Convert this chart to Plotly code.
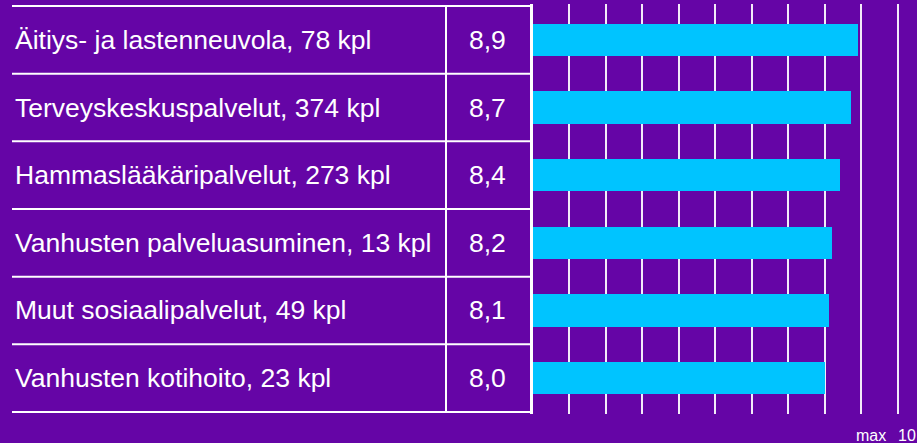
import plotly.graph_objects as go

# Data
categories = [
    "Äitiys- ja lastenneuvola, 78 kpl",
    "Terveyskeskuspalvelut, 374 kpl",
    "Hammaslääkäripalvelut, 273 kpl",
    "Vanhusten palveluasuminen, 13 kpl",
    "Muut sosiaalipalvelut, 49 kpl",
    "Vanhusten kotihoito, 23 kpl",
]
scores = [8.9, 8.7, 8.4, 8.2, 8.1, 8.0]
score_labels = ["8,9", "8,7", "8,4", "8,2", "8,1", "8,0"]
axis_max = 10
max_label = "max"

W, H = 917, 443
BG = "#6505A6"
BAR = "#00C4FF"
FONT = "Liberation Sans, Arial, sans-serif"

x_axis_px = 532.5
unit_px = 36.52
range_end = 10.3
x_end_px = x_axis_px + unit_px * range_end
table_left_px = 12
divider_px = 446

n = len(categories)
ypos = list(range(n))

fig = go.Figure()
fig.add_trace(go.Bar(
    x=scores, y=ypos, orientation="h",
    marker=dict(color=BAR, line=dict(width=0)),
    width=0.48, hoverinfo="skip",
))

shapes = []
for i in range(n + 1):
    yy = i - 0.5
    shapes.append(dict(type="line", xref="paper", yref="y",
                       x0=table_left_px / W, x1=x_axis_px / W, y0=yy, y1=yy,
                       line=dict(color="white", width=2)))
shapes.append(dict(type="line", xref="paper", yref="y",
                   x0=divider_px / W, x1=divider_px / W, y0=-0.5, y1=n - 0.5,
                   line=dict(color="white", width=2)))

annotations = []
for i, (c, s) in enumerate(zip(categories, score_labels)):
    annotations.append(dict(text=c, xref="paper", yref="y", x=12.5 / W, y=i,
                            xanchor="left", yanchor="middle", showarrow=False,
                            font=dict(family=FONT, size=26.5, color="white")))
    annotations.append(dict(text=s, xref="paper", yref="y", x=487 / W, y=i,
                            xanchor="center", yanchor="middle", showarrow=False,
                            font=dict(family=FONT, size=26.5, color="white")))
annotations.append(dict(text=max_label, xref="paper", yref="paper", x=888 / W, y=(H - 435.5) / H,
                        xanchor="right", yanchor="middle", showarrow=False,
                        font=dict(family=FONT, size=16, color="white")))
annotations.append(dict(text=str(axis_max), xref="x", yref="paper", x=axis_max, y=(H - 435.5) / H,
                        xanchor="left", yanchor="middle", showarrow=False, xshift=-2,
                        font=dict(family=FONT, size=16, color="white")))

fig.update_layout(
    width=W, height=H,
    margin=dict(l=0, r=0, t=0, b=0),
    paper_bgcolor=BG, plot_bgcolor=BG,
    showlegend=False,
    bargap=0,
    xaxis=dict(domain=[x_axis_px / W, min(x_end_px / W, 1)], range=[0, range_end],
               dtick=1, tick0=0, showgrid=True, gridcolor="rgba(255,255,255,0.92)",
               gridwidth=2, showticklabels=False, zeroline=False,
               showline=False, ticks="", fixedrange=True),
    yaxis=dict(domain=[(H - 414) / H, (H - 4) / H], range=[n - 0.5 + 0.03, -0.5 - 0.03],
               showgrid=False, showticklabels=False, zeroline=False,
               showline=True, linecolor="white", linewidth=3, ticks="", fixedrange=True),
    shapes=shapes,
    annotations=annotations,
)

fig.write_html("out.html", config={"displayModeBar": False},
               post_script="document.body.style.margin='0';")
